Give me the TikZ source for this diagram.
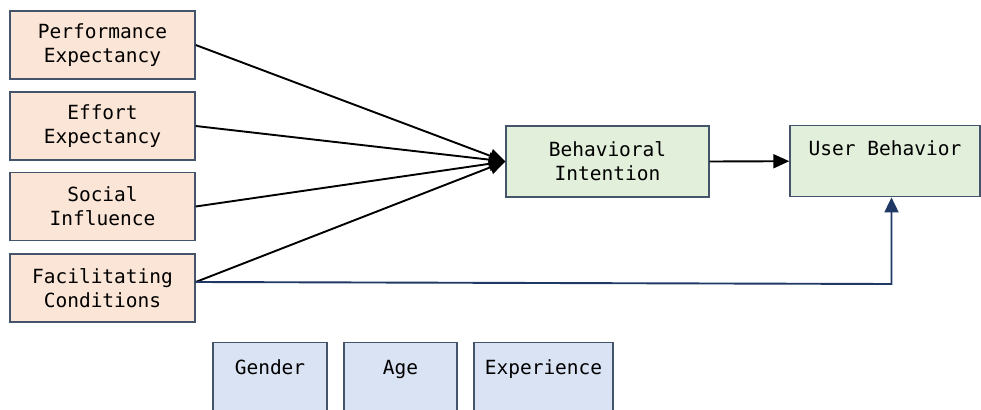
\documentclass[tikz,border=0pt]{standalone}
\usepackage{fontspec}
\newfontfamily\dmono{DejaVu Sans Mono}
\usetikzlibrary{arrows.meta}
\definecolor{peach}{HTML}{FBE5D6}
\definecolor{lgreen}{HTML}{E2EFDA}
\definecolor{lblue}{HTML}{DAE3F3}
\definecolor{bord}{HTML}{44546A}
\definecolor{navy}{HTML}{1F3864}
\tikzset{
  base/.style={draw=bord, line width=1.4pt, font=\dmono\fontsize{19.5}{24}\selectfont, align=center, inner sep=0pt},
  factor/.style={base, fill=peach, minimum width=185pt, minimum height=68pt},
  greenbox/.style={base, fill=lgreen},
  modbox/.style={base, fill=lblue, anchor=north, text height=14pt, text depth=34pt, inner ysep=18pt, inner xsep=0pt},
  arr/.style={line width=1.9pt, -{Triangle[length=16pt,width=14pt]}},
  narr/.style={line width=1.9pt, draw=navy, -{Triangle[length=15pt,width=14pt]}, color=navy}
}
\begin{document}
\begin{tikzpicture}[x=1pt,y=-1pt]
\useasboundingbox (0,0) rectangle (981,409);
\clip (0,0) rectangle (981,409);
\node[factor] (pe) at (102.5,45) {Performance\\Expectancy};
\node[factor] (ee) at (102.5,126) {Effort\\Expectancy};
\node[factor] (si) at (102.5,206.5) {Social\\Influence};
\node[factor] (fc) at (102.5,288) {Facilitating\\Conditions};
\node[greenbox, minimum width=203pt, minimum height=71pt] (bi) at (607.5,161.5) {Behavioral\\Intention};
\node[greenbox, minimum width=190pt, anchor=north, text height=14pt, text depth=25pt, inner ysep=16pt] (ub) at (885,125) {User Behavior};
\node[modbox, minimum width=114pt] (gender) at (270,342) {Gender};
\node[modbox, minimum width=113pt] (age) at (400.5,342) {Age};
\node[modbox, minimum width=139pt] (exp) at (543.5,342) {Experience};
\coordinate (fcout) at ([yshift=6pt]fc.east);
\coordinate (corner) at (891.5,284);
\draw[arr] (pe.east) -- (bi.west);
\draw[arr] (ee.east) -- (bi.west);
\draw[arr] (si.east) -- (bi.west);
\draw[arr] (fcout) -- (bi.west);
\draw[arr] (bi.east) -- (ub.west);
\draw[narr] (fcout) -- (corner) -- (corner |- ub.south);
\end{tikzpicture}
\end{document}
